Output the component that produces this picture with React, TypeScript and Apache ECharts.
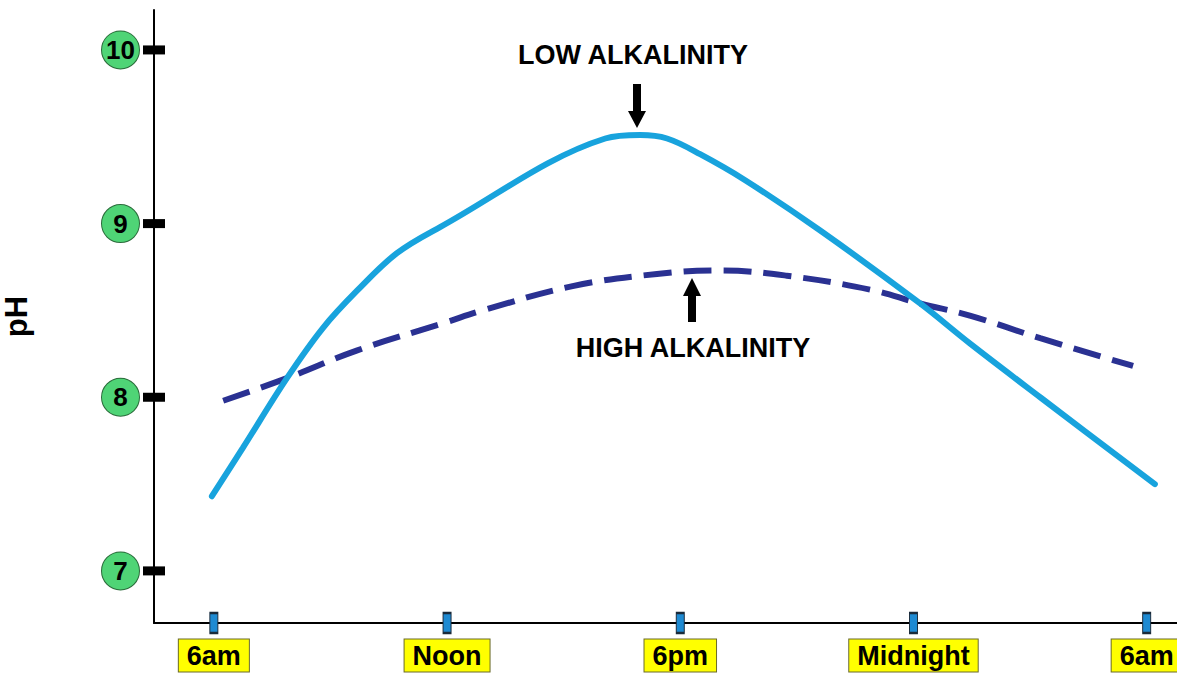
import React, { useEffect, useRef } from "react";
import * as echarts from "echarts";

// Hours since midnight (6 = 6am, 30 = next day's 6am) and pH values
const TIME_TICKS = [6, 12, 18, 24, 30];
const TIME_LABELS = ["6am", "Noon", "6pm", "Midnight", "6am"];
const PH_TICKS = [7, 8, 9, 10];

const LOW_ALK_HOURS = [5.95, 6.75, 7.88, 8.81, 9.69, 10.71, 11.82, 16.07, 16.97, 17.66, 18.51, 19.67, 21.6, 24.17, 25.45, 27.26, 30.21];
const LOW_ALK_PH = [7.43, 7.71, 8.11, 8.4, 8.615, 8.83, 8.98, 9.49, 9.51, 9.49, 9.4, 9.25, 8.96, 8.54, 8.31, 8.0, 7.5];

const HIGH_ALK_HOURS = [6.24, 7.88, 9.69, 11.95, 12.92, 15.23, 17.4, 19.02, 20.74, 22.88, 24.17, 25.45, 27.26, 29.65];
const HIGH_ALK_PH = [7.98, 8.11, 8.27, 8.43, 8.5, 8.64, 8.71, 8.73, 8.7, 8.62, 8.54, 8.47, 8.34, 8.18];

const X_MIN = 4.46;
const X_MAX = 30.78;
const Y_MIN = 6.7;
const Y_MAX = 10.23;

const FONT = "'Liberation Sans', Arial, Helvetica, sans-serif";

export default function App() {
  const ref = useRef<HTMLDivElement>(null);

  useEffect(() => {
    if (!ref.current) return;
    const chart = echarts.init(ref.current, null, { renderer: "svg" });
    const low = LOW_ALK_HOURS.map((h, i) => [h, LOW_ALK_PH[i]]);
    const high = HIGH_ALK_HOURS.map((h, i) => [h, HIGH_ALK_PH[i]]);

    chart.setOption({
      animation: false,
      backgroundColor: "#ffffff",
      grid: { left: 154, right: 0, top: 10, bottom: 54, containLabel: false, outerBoundsMode: "none" },
      xAxis: {
        type: "value",
        min: X_MIN,
        max: X_MAX,
        splitLine: { show: false },
        axisTick: { show: false },
        axisLine: { show: true, onZero: false, lineStyle: { color: "#000", width: 2 } },
        axisLabel: {
          customValues: TIME_TICKS,
          margin: 19,
          formatter: (v: number) => `{b|${TIME_LABELS[TIME_TICKS.indexOf(v)] ?? ""}}`,
          rich: {
            b: {
              fontFamily: FONT,
              fontWeight: "bold",
              fontSize: 27,
              color: "#000",
              backgroundColor: "#ffff00",
              borderColor: "#6b6b2a",
              borderWidth: 1,
              padding: [3, 8, 2, 8],
              lineHeight: 27,
            },
          },
        },
      },
      yAxis: {
        type: "value",
        min: Y_MIN,
        max: Y_MAX,
        name: "pH",
        nameLocation: "middle",
        nameRotate: 90,
        nameGap: 122,
        nameTextStyle: { fontFamily: FONT, fontWeight: "bold", fontSize: 31, color: "#000" },
        splitLine: { show: false },
        axisTick: { show: false },
        axisLine: { show: true, onZero: false, lineStyle: { color: "#000", width: 2 } },
        axisLabel: {
          customValues: PH_TICKS,
          margin: 15,
          formatter: (v: number) => `{c|${v}}`,
          rich: {
            c: {
              fontFamily: FONT,
              fontWeight: "bold",
              fontSize: 26,
              color: "#000",
              backgroundColor: "#4fd476",
              borderColor: "#2a6b3a",
              borderWidth: 1,
              borderRadius: 19,
              width: 37,
              height: 37,
              lineHeight: 37,
              align: "center",
            },
          },
        },
      },
      series: [
        {
          type: "line",
          name: "Low alkalinity",
          data: low,
          smooth: 0.35,
          symbol: "none",
          lineStyle: { color: "#18a3dd", width: 6, cap: "round" },
          z: 3,
        },
        {
          type: "line",
          name: "High alkalinity",
          data: high,
          smooth: 0.4,
          symbol: "none",
          lineStyle: { color: "#2a3192", width: 6, type: [28, 12], cap: "butt" },
          z: 2,
        },
        {
          type: "scatter",
          name: "pH ticks",
          data: PH_TICKS.map((v) => [X_MIN, v]),
          symbol: "rect",
          symbolSize: [22, 9],
          itemStyle: { color: "#000", opacity: 1 },
          clip: false,
          silent: true,
          z: 4,
        },
        {
          type: "scatter",
          name: "Time ticks",
          data: TIME_TICKS.map((h) => [h, Y_MIN]),
          symbol: "rect",
          symbolSize: [8, 20],
          itemStyle: { color: "#1e8ad2", borderColor: "#1a2a3a", borderWidth: 1.5, opacity: 1 },
          clip: false,
          silent: true,
          z: 4,
        },
      ],
      graphic: [
        {
          type: "text",
          x: 633,
          y: 55,
          style: {
            text: "LOW ALKALINITY",
            fontFamily: FONT,
            fontWeight: "bold",
            fontSize: 27,
            fill: "#000",
            align: "center",
            verticalAlign: "middle",
          },
        },
        {
          type: "polygon",
          shape: {
            points: [
              [633, 84], [641, 84], [641, 111], [646, 111], [637, 128], [628, 111], [633, 111],
            ],
          },
          style: { fill: "#000" },
        },
        {
          type: "text",
          x: 693,
          y: 348,
          style: {
            text: "HIGH ALKALINITY",
            fontFamily: FONT,
            fontWeight: "bold",
            fontSize: 27,
            fill: "#000",
            align: "center",
            verticalAlign: "middle",
          },
        },
        {
          type: "polygon",
          shape: {
            points: [
              [692, 278], [701, 296], [696, 296], [696, 322], [688, 322], [688, 296], [683, 296],
            ],
          },
          style: { fill: "#000" },
        },
      ],
    });

    return () => chart.dispose();
  }, []);

  return (
    <div
      ref={ref}
      style={{ position: "fixed", left: 0, top: 0, width: 1177, height: 677, overflow: "hidden", background: "#fff" }}
    />
  );
}
